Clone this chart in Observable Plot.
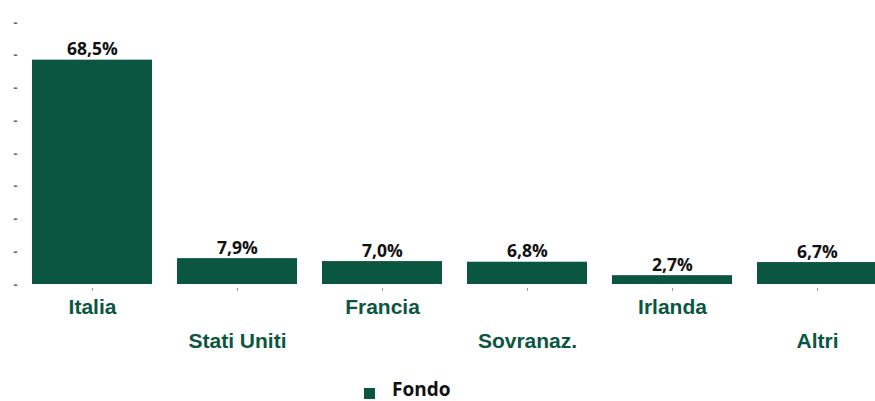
<!DOCTYPE html>
<html>
<head>
<meta charset="utf-8">
<script src="https://cdn.jsdelivr.net/npm/d3@7"></script>
<script src="https://cdn.jsdelivr.net/npm/@observablehq/plot@0.6"></script>
<style>
  html, body { margin: 0; padding: 0; background: #fff; width: 875px; height: 401px; overflow: hidden; }
  #wrap { position: relative; width: 875px; height: 401px; }
  #chart svg { display: block; }
  .sw { position: absolute; left: 364px; top: 388px; width: 11px; height: 11px; background: #0b5640; }
  .lt { position: absolute; left: 392px; top: 380px; font-family: "Open Sans", sans-serif; font-weight: 700; font-size: 19px; line-height: 19px; color: #111; }
</style>
</head>
<body>
<div id="wrap">
  <div id="chart"></div>
  <div class="sw"></div>
  <div class="lt" id="legendText"></div>
</div>
<script>
const categories = ["Italia", "Stati Uniti", "Francia", "Sovranaz.", "Irlanda", "Altri"];
const values = [68.5, 7.9, 7.0, 6.8, 2.7, 6.7];
const seriesName = "Fondo";
const yTicks = [0, 10, 20, 30, 40, 50, 60, 70, 80];

const green = "#0b5640";
const data = categories.map((c, i) => ({cat: c, value: values[i], idx: i}));
const fmt = v => v.toFixed(1).replace(".", ",") + "%";

const chart = Plot.plot({
  width: 875,
  height: 382,
  marginLeft: 19,
  marginRight: 0,
  marginTop: 22,
  marginBottom: 98,
  style: {fontFamily: "'Liberation Sans', Arial, sans-serif", background: "#fff"},
  x: {domain: categories, range: [18.6, 891.6], paddingInner: 0.17, paddingOuter: 0.085, label: null},
  y: {domain: [0, 80], label: null},
  marks: [
    Plot.axisY(yTicks, {tickSize: 0, tickPadding: 2, tickFormat: () => "-", fill: "#666", fontSize: 13, fontWeight: 700, label: null}),
    Plot.axisX({tickSize: 3, dy: 4, stroke: "#999", tickFormat: () => "", label: null}),
    Plot.barY(data, {x: "cat", y: "value", fill: green}),
    Plot.text(data, {x: "cat", y: "value", text: d => fmt(d.value), lineAnchor: "bottom", dy: -5,
      fill: "#111", fontFamily: "'Open Sans', sans-serif", fontWeight: 700, fontSize: 17.5}),
    Plot.text(data.filter(d => d.idx % 2 === 0), {x: "cat", text: "cat", frameAnchor: "bottom", lineAnchor: "bottom", dy: 29,
      fill: green, fontWeight: 700, fontSize: 21}),
    Plot.text(data.filter(d => d.idx % 2 === 1), {x: "cat", text: "cat", frameAnchor: "bottom", lineAnchor: "bottom", dy: 63,
      fill: green, fontWeight: 700, fontSize: 21})
  ]
});
document.getElementById("chart").appendChild(chart);
document.getElementById("legendText").textContent = seriesName;
</script>
</body>
</html>
